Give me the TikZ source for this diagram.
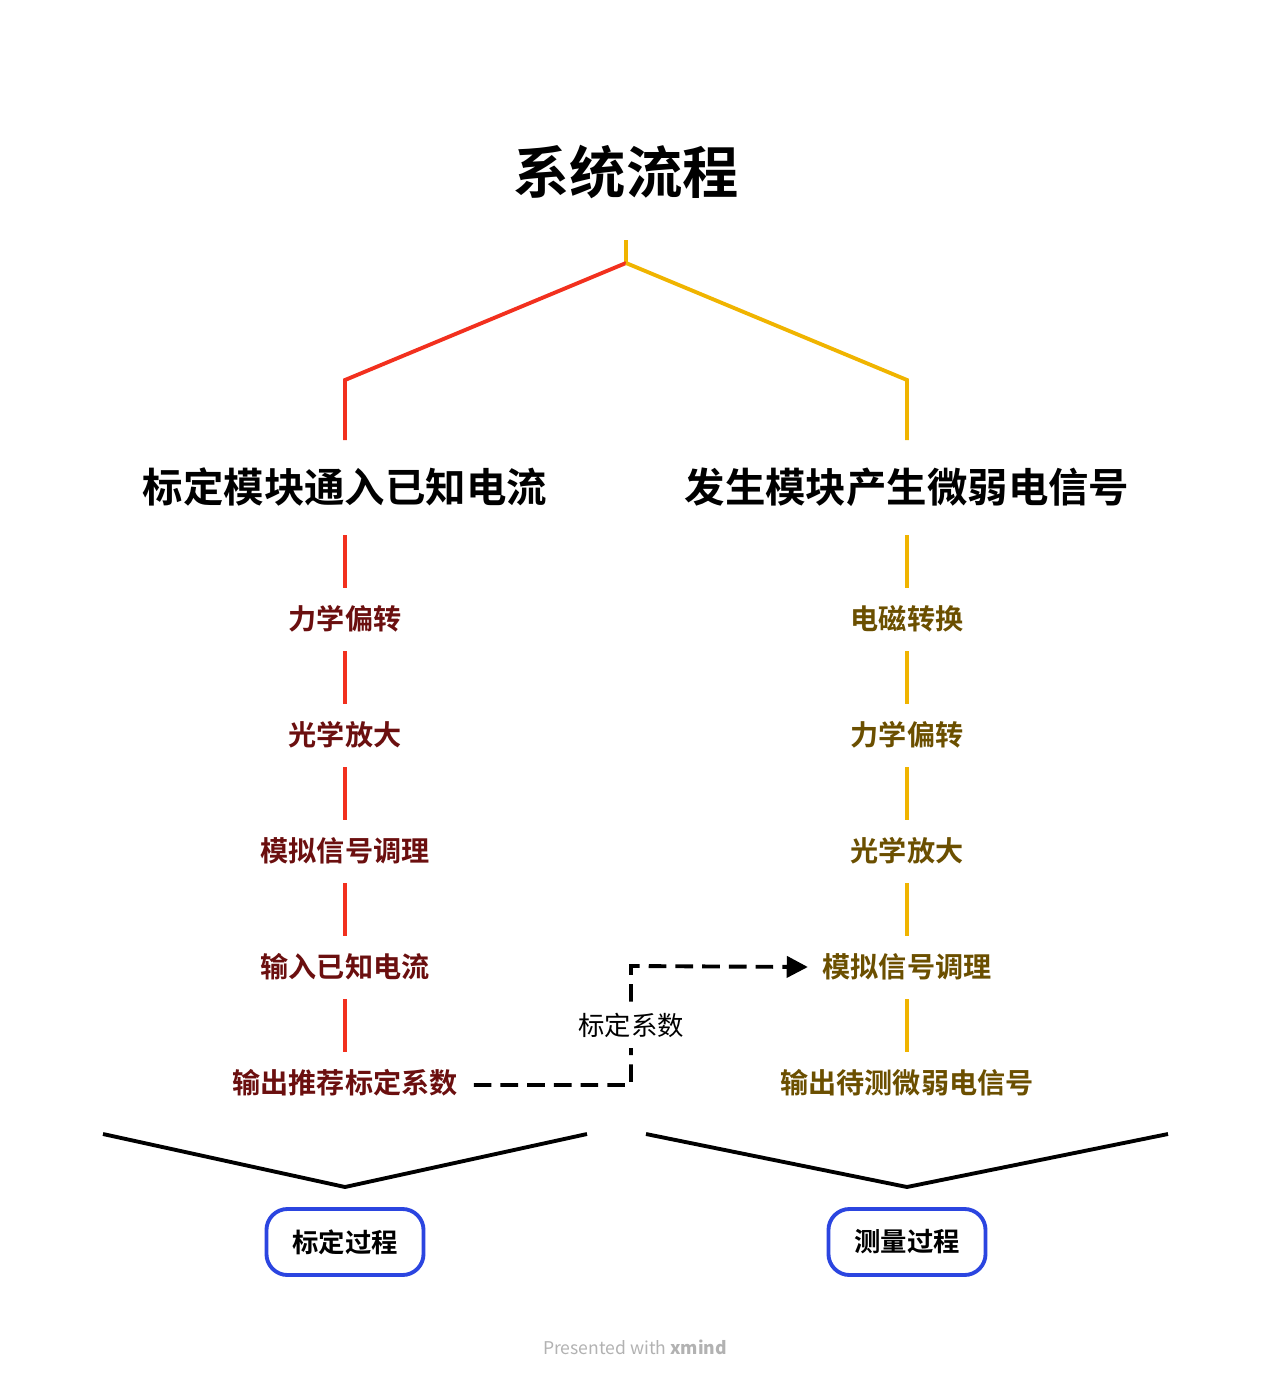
\documentclass[tikz,border=0pt]{standalone}
\usepackage{fontspec}
\setmainfont{Noto Sans CJK SC}
\newfontfamily\cjkb{Noto Sans CJK SC Bold}
\usetikzlibrary{positioning,arrows.meta}
\definecolor{redline}{HTML}{F2301E}
\definecolor{yelline}{HTML}{F0B400}
\definecolor{redtext}{HTML}{6B0F0F}
\definecolor{yeltext}{HTML}{6B4F00}
\definecolor{boxblue}{HTML}{2B45E0}
\tikzset{
    stage/.style={font=\cjkb\fontsize{8}{9}\selectfont,inner sep=1pt},
    head/.style={font=\cjkb\fontsize{11.5}{13}\selectfont},
    phase/.style={draw=boxblue,line width=1.1pt,rounded corners=6pt,minimum width=1.57cm,minimum height=0.66cm,font=\cjkb\fontsize{7.5}{9}\selectfont},
    redl/.style={redline,line width=1.1pt},
    yell/.style={yelline,line width=1.1pt}
}
\begin{document}
\begin{tikzpicture}[x=0.01cm,y=-0.01cm]
    \useasboundingbox (0,0) rectangle (1272,1378);
    \node[font=\cjkb\fontsize{16}{19}\selectfont] (title) at (626,172) {系统流程};
    \coordinate (root) at (626,240);
    \coordinate (fork) at (626,263);
    \coordinate (lk) at (345,380);
    \coordinate (rk) at (907,380);
    \node[head] (cal) at (345,487) {标定模块通入已知电流};
    \node[head] (gen) at (907,487) {发生模块产生微弱电信号};
    \draw[yell] (root) -- (fork);
    \draw[redl] (fork) -- (lk) -- (345,440);
    \draw[yell] (fork) -- (rk) -- (907,440);
    % left chain
    \node[stage,redtext] (l1) at (345,619) {力学偏转};
    \node[stage,redtext] (l2) at (345,735) {光学放大};
    \node[stage,redtext] (l3) at (345,851) {模拟信号调理};
    \node[stage,redtext] (l4) at (345,967) {输入已知电流};
    \node[stage,redtext] (l5) at (345,1083) {输出推荐标定系数};
    % right chain
    \node[stage,yeltext] (r1) at (907,619) {电磁转换};
    \node[stage,yeltext] (r2) at (907,735) {力学偏转};
    \node[stage,yeltext] (r3) at (907,851) {光学放大};
    \node[stage,yeltext] (r4) at (907,967) {模拟信号调理};
    \node[stage,yeltext] (r5) at (907,1083) {输出待测微弱电信号};
    \foreach \y in {535,651,767,883,999}{
        \draw[redl] (345,\y) -- ++(0,53);
        \draw[yell] (907,\y) -- ++(0,53);
    }
    % calibration coefficient
    \coordinate (bend) at (631,1085);
    \coordinate (rise) at (631,966);
    \draw[line width=1.1pt,dash pattern=on 5pt off 2.6pt,-{Triangle[length=6pt,width=6pt]}]
        (l5.east) ++(12,2) -- (bend) -- (rise) -- ([xshift=-3pt]r4.west);
    \node[fill=white,font=\fontsize{7.5}{9}\selectfont,inner sep=3pt] (coef) at (631,1025) {标定系数};
    % phases
    \node[phase] (pc) at (345,1242) {标定过程};
    \node[phase] (pm) at (907,1242) {测量过程};
    \draw[line width=1.1pt] (103,1134) -- (345,1187) -- (587,1134);
    \draw[line width=1.1pt] (646,1134) -- (907,1187) -- (1168,1134);
    \node[gray!60,font=\fontsize{5}{6}\selectfont] (foot) at (635,1347) {Presented with \textbf{xmind}};
\end{tikzpicture}
\end{document}
